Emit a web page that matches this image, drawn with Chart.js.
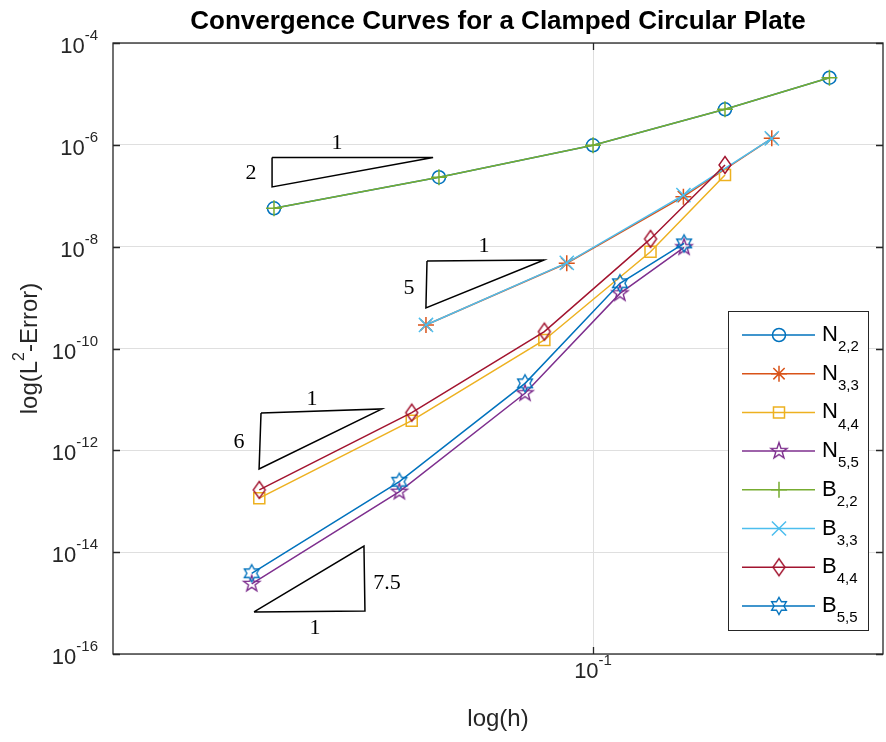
<!DOCTYPE html>
<html lang="en">
<head>
<meta charset="UTF-8">
<title>Convergence Curves for a Clamped Circular Plate</title>
<script src="https://cdn.jsdelivr.net/npm/chart.js@4"></script>
<style>
    body { margin: 0; background: #fff; }
    #wrap { width: 886px; height: 742px; position: relative; }
</style>
</head>
<body>
<div id="wrap"><canvas id="conv"></canvas></div>
<script>
// mesh sizes h for each polynomial degree
const hDeg2 = [0.02233, 0.04848, 0.1, 0.1859, 0.3037];
const hDeg3 = [0.04561, 0.08838, 0.1529, 0.2316];
const hDeg4 = [0.02084, 0.04266, 0.07955, 0.1310, 0.1859];
const hDeg5 = [0.02011, 0.04025, 0.07265, 0.1135, 0.1534];

// L2 errors, N = nodal, B = B-spline
const errN22 = [5.67e-8, 2.31e-7, 9.8e-7, 4.99e-6, 2.08e-5];
const errN33 = [2.9e-10, 4.72e-9, 9.6e-8, 1.34e-6];
const errN44 = [1.15e-13, 3.82e-12, 1.47e-10, 7.96e-9, 2.56e-7];
const errN55 = [2.38e-15, 1.54e-13, 1.32e-11, 1.21e-9, 9.72e-9];
const errB22 = [5.67e-8, 2.31e-7, 9.8e-7, 4.99e-6, 2.08e-5];
const errB33 = [2.9e-10, 4.8e-9, 1.03e-7, 1.34e-6];
const errB44 = [1.67e-13, 5.49e-12, 2.14e-10, 1.42e-8, 4.02e-7];
const errB55 = [3.85e-15, 2.42e-13, 2.07e-11, 1.91e-9, 1.16e-8];

const seriesNames = ['N', 'N', 'N', 'N', 'B', 'B', 'B', 'B'];
const seriesSubs = ['2,2', '3,3', '4,4', '5,5', '2,2', '3,3', '4,4', '5,5'];
const seriesH = [hDeg2, hDeg3, hDeg4, hDeg5, hDeg2, hDeg3, hDeg4, hDeg5];
const seriesErr = [errN22, errN33, errN44, errN55, errB22, errB33, errB44, errB55];
const seriesColors = ['#0072BD', '#D95319', '#EDB120', '#7E2F8E', '#77AC30', '#4DBEEE', '#A2142F', '#0072BD'];

// slope triangles (closed paths) and their labels
const tri2H = [0.02213, 0.04716, 0.02213, 0.02213];
const tri2E = [5.64e-7, 5.64e-7, 1.49e-7, 5.64e-7];
const tri5H = [0.04583, 0.07943, 0.0456, 0.04583];
const tri5E = [5.24e-9, 5.47e-9, 6.25e-10, 5.24e-9];
const tri6H = [0.02101, 0.03710, 0.02082, 0.02101];
const tri6E = [5.42e-12, 6.49e-12, 4.31e-13, 5.42e-12];
const tri75H = [0.02033, 0.03424, 0.03408, 0.02033];
const tri75E = [6.70e-16, 7.0e-16, 1.32e-14, 6.70e-16];
const triLabelText = ['1', '2', '1', '5', '1', '6', '7.5', '1'];
const triLabelH = [0.03002, 0.02004, 0.05990, 0.04212, 0.02670, 0.01895, 0.03799, 0.02709];
const triLabelE = [1.09e-6, 2.80e-7, 1.03e-8, 1.545e-9, 1.02e-11, 1.46e-12, 2.48e-15, 3.24e-16];

const xTickExp = [-1];
const yTickExp = [-4, -6, -8, -10, -12, -14, -16];

const FONT = '"Liberation Sans", Arial, Helvetica, sans-serif';
const AXIS_COLOR = '#262626';

// hollow marker bitmaps for shapes Chart.js has no built-in style for
function starPts(n, rOut, rIn) {
    const pts = [];
    for (let i = 0; i < 2 * n; i++) {
        const r = i % 2 ? rIn : rOut;
        const ang = -Math.PI / 2 + i * Math.PI / n;
        pts.push([r * Math.cos(ang), r * Math.sin(ang)]);
    }
    return pts;
}
function polyMarker(color, pts) {
    const size = 22;
    const c = document.createElement('canvas');
    c.width = size; c.height = size;
    const g = c.getContext('2d');
    g.strokeStyle = color;
    g.lineWidth = 1.4;
    g.beginPath();
    pts.forEach(([px, py], i) => {
        if (i) g.lineTo(size / 2 + px, size / 2 + py);
        else g.moveTo(size / 2 + px, size / 2 + py);
    });
    g.closePath();
    g.stroke();
    return c;
}

const markers = [
    { pointStyle: 'circle', pointRadius: 6.5 },
    { pointStyle: 'star', pointRadius: 8 },
    { pointStyle: 'rect', pointRadius: 7.8 },
    { pointStyle: polyMarker(seriesColors[3], starPts(5, 8.5, 3.4)), pointRadius: 8 },
    { pointStyle: 'cross', pointRadius: 8 },
    { pointStyle: 'crossRot', pointRadius: 10 },
    { pointStyle: polyMarker(seriesColors[6], [[0, -8.5], [6, 0], [0, 8.5], [-6, 0]]), pointRadius: 8 },
    { pointStyle: polyMarker(seriesColors[7], starPts(6, 8.5, 4.9)), pointRadius: 8 }
];

const datasets = seriesErr.map((errs, i) => Object.assign({
    label: seriesNames[i] + seriesSubs[i],
    data: errs.map((e, k) => ({ x: seriesH[i][k], y: e })),
    showLine: true,
    borderColor: seriesColors[i],
    backgroundColor: 'rgba(0,0,0,0)',
    borderWidth: 1.5,
    pointBorderColor: seriesColors[i],
    pointBackgroundColor: 'rgba(0,0,0,0)',
    pointBorderWidth: 1.5,
    order: 7 - i
}, markers[i]));

[[tri2H, tri2E], [tri5H, tri5E], [tri6H, tri6E], [tri75H, tri75E]].forEach(([hs, es]) => {
    datasets.push({
        data: hs.map((h, k) => ({ x: h, y: es[k] })),
        showLine: true,
        borderColor: '#000',
        borderWidth: 1.5,
        pointRadius: 0,
        order: 20
    });
});

function drawPow(ctx, exp, x, y, align) {
    ctx.font = '22px ' + FONT;
    const wb = ctx.measureText('10').width;
    ctx.font = '15px ' + FONT;
    const sup = String(exp);
    const ws = ctx.measureText(sup).width;
    let x0 = align === 'right' ? x - wb - ws : x - (wb + ws) / 2;
    ctx.textAlign = 'left';
    ctx.textBaseline = 'middle';
    ctx.font = '22px ' + FONT;
    ctx.fillText('10', x0, y + 4);
    ctx.font = '15px ' + FONT;
    ctx.fillText(sup, x0 + wb, y - 7);
}

const decor = {
    id: 'decor',
    afterDatasetsDraw(chart) {
        const { ctx, chartArea: a, scales: { x, y } } = chart;
        ctx.save();

        // slope labels
        ctx.fillStyle = '#000';
        ctx.font = '22px "Liberation Serif", "DejaVu Serif", serif';
        ctx.textAlign = 'center';
        ctx.textBaseline = 'middle';
        triLabelText.forEach((t, i) => {
            ctx.fillText(t, x.getPixelForValue(triLabelH[i]), y.getPixelForValue(triLabelE[i]));
        });

        // axes box and inward ticks
        ctx.strokeStyle = AXIS_COLOR;
        ctx.lineWidth = 1.3;
        ctx.strokeRect(a.left, a.top, a.right - a.left, a.bottom - a.top);
        ctx.beginPath();
        xTickExp.forEach(e => {
            const px = Math.round(x.getPixelForValue(Math.pow(10, e))) + 0.5;
            ctx.moveTo(px, a.bottom); ctx.lineTo(px, a.bottom - 7);
            ctx.moveTo(px, a.top); ctx.lineTo(px, a.top + 7);
        });
        yTickExp.forEach(e => {
            const py = Math.round(y.getPixelForValue(Math.pow(10, e))) + 0.5;
            ctx.moveTo(a.left, py); ctx.lineTo(a.left + 7, py);
            ctx.moveTo(a.right, py); ctx.lineTo(a.right - 7, py);
        });
        ctx.stroke();

        // tick labels
        ctx.fillStyle = AXIS_COLOR;
        yTickExp.forEach(e => drawPow(ctx, e, a.left - 15, y.getPixelForValue(Math.pow(10, e)), 'right'));
        xTickExp.forEach(e => drawPow(ctx, e, x.getPixelForValue(Math.pow(10, e)), a.bottom + 14, 'center'));

        // legend
        const lx = 728, ly = 311, lw = 140, lh = 319;
        ctx.fillStyle = '#fff';
        ctx.fillRect(lx, ly, lw, lh);
        ctx.strokeStyle = AXIS_COLOR;
        ctx.lineWidth = 1;
        ctx.strokeRect(lx + 0.5, ly + 0.5, lw, lh);
        const meta = chart.data.datasets;
        seriesNames.forEach((name, i) => {
            const ey = ly + 24 + i * 38.7;
            const ds = meta[i];
            ctx.strokeStyle = ds.borderColor;
            ctx.lineWidth = 1.5;
            ctx.beginPath();
            ctx.moveTo(lx + 14, ey); ctx.lineTo(lx + 87, ey);
            ctx.stroke();
            ctx.fillStyle = 'rgba(0,0,0,0)';
            Chart.helpers.drawPoint(ctx, {
                pointStyle: ds.pointStyle, radius: ds.pointRadius,
                borderWidth: 1.5, rotation: 0
            }, lx + 51, ey);
            ctx.fillStyle = '#000';
            ctx.textAlign = 'left';
            ctx.textBaseline = 'middle';
            ctx.font = '22px ' + FONT;
            ctx.fillText(name, lx + 94, ey);
            const wn = ctx.measureText(name).width;
            ctx.font = '15px ' + FONT;
            ctx.fillText(seriesSubs[i], lx + 94 + wn, ey + 12);
        });
        ctx.restore();
    },
    afterDraw(chart) {
        const { ctx, chartArea: a } = chart;
        const cx = (a.left + a.right) / 2;
        ctx.save();
        ctx.fillStyle = '#000';
        ctx.textAlign = 'center';
        ctx.textBaseline = 'middle';
        ctx.font = 'bold 26px ' + FONT;
        ctx.fillText('Convergence Curves for a Clamped Circular Plate', cx, 22);

        ctx.fillStyle = AXIS_COLOR;
        ctx.font = '24px ' + FONT;
        ctx.fillText('log(h)', cx, 719);

        // rotated y title with superscript 2
        ctx.translate(30, (a.top + a.bottom) / 2);
        ctx.rotate(-Math.PI / 2);
        ctx.textAlign = 'left';
        ctx.font = '24px ' + FONT;
        const w1 = ctx.measureText('log(L').width;
        const w3 = ctx.measureText('-Error)').width;
        ctx.font = '16px ' + FONT;
        const w2 = ctx.measureText('2').width;
        let x0 = -(w1 + w2 + w3) / 2;
        ctx.font = '24px ' + FONT;
        ctx.fillText('log(L', x0, 0);
        ctx.font = '16px ' + FONT;
        ctx.fillText('2', x0 + w1, -10);
        ctx.font = '24px ' + FONT;
        ctx.fillText('-Error)', x0 + w1 + w2, 0);
        ctx.restore();
    }
};

function fixedTicks(exps) {
    return scale => { scale.ticks = exps.map(e => ({ value: Math.pow(10, e) })); };
}

new Chart(document.getElementById('conv'), {
    type: 'scatter',
    data: { datasets },
    options: {
        responsive: true,
        maintainAspectRatio: false,
        animation: false,
        layout: { autoPadding: false, padding: { left: 113, right: 3, top: 43, bottom: 88 } },
        plugins: { legend: { display: false }, tooltip: { enabled: false } },
        elements: { line: { tension: 0 } },
        scales: {
            x: {
                type: 'logarithmic',
                min: 0.01048,
                max: 0.3906,
                afterBuildTicks: fixedTicks(xTickExp),
                ticks: { display: false },
                grid: { color: '#dfdfdf', lineWidth: 1, drawTicks: false },
                border: { display: false }
            },
            y: {
                type: 'logarithmic',
                min: 1e-16,
                max: 1e-4,
                afterBuildTicks: fixedTicks(yTickExp),
                ticks: { display: false },
                grid: { color: '#dfdfdf', lineWidth: 1, drawTicks: false },
                border: { display: false }
            }
        }
    },
    plugins: [decor]
});
</script>
</body>
</html>
